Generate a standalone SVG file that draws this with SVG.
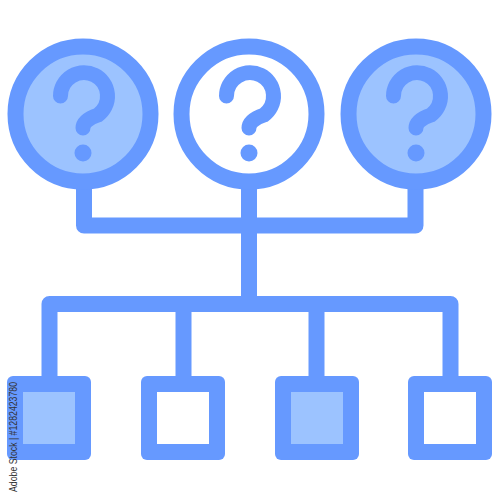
<svg xmlns="http://www.w3.org/2000/svg" width="500" height="500" viewBox="0 0 500 500">
  <style>
    .ln { fill: none; stroke: #6699ff; stroke-width: 16; stroke-linejoin: round; stroke-linecap: butt; }
    .ring { stroke: #6699ff; stroke-width: 16; }
    .lt { fill: #9cc3ff; }
    .wh { fill: #ffffff; }
    .blue { fill: #6699ff; }
    .qm { fill: none; stroke: #6699ff; stroke-width: 15; stroke-linecap: round; stroke-linejoin: round; }
    .wm { font-family: "Liberation Sans", Arial, sans-serif; font-size: 11px; fill: #333333; }
  </style>
  <defs>
    <g id="q">
      <path class="qm" d="M60.5 96 A23.5 23.5 0 1 1 98 115 Q83 120 83 128"/>
      <circle class="blue" cx="83" cy="153" r="8.5"/>
    </g>
  </defs>
  <rect width="500" height="500" fill="#ffffff"/>

  <g id="connectors">
    <path class="ln" d="M84 185 V225.5 H415.5 V185"/>
    <path class="ln" d="M249 185 V304"/>
    <path class="ln" d="M49.5 380 V304 H450.5 V380"/>
    <path class="ln" d="M183.5 304 V380"/>
    <path class="ln" d="M316.5 304 V380"/>
  </g>

  <g id="circle-left">
    <circle class="ring lt" cx="83" cy="114" r="67.5"/>
    <use href="#q"/>
  </g>
  <g id="circle-middle">
    <circle class="ring wh" cx="249" cy="114" r="67.5"/>
    <use href="#q" transform="translate(166 0)"/>
  </g>
  <g id="circle-right">
    <circle class="ring lt" cx="416" cy="114" r="67.5"/>
    <use href="#q" transform="translate(333 0)"/>
  </g>

  <g id="square-1">
    <rect class="blue" x="7" y="376" width="84" height="84" rx="6"/>
    <rect class="lt" x="23" y="392" width="52" height="52"/>
  </g>
  <g id="square-2">
    <rect class="blue" x="141" y="376" width="84" height="84" rx="6"/>
    <rect class="wh" x="157" y="392" width="52" height="52"/>
  </g>
  <g id="square-3">
    <rect class="blue" x="275" y="376" width="84" height="84" rx="6"/>
    <rect class="lt" x="291" y="392" width="52" height="52"/>
  </g>
  <g id="square-4">
    <rect class="blue" x="408" y="376" width="84" height="84" rx="6"/>
    <rect class="wh" x="424" y="392" width="52" height="52"/>
  </g>

  <text class="wm" transform="translate(16.5 492) rotate(-90)" x="0" y="0" textLength="110" lengthAdjust="spacingAndGlyphs">Adobe Stock | #1282423780</text>
</svg>
